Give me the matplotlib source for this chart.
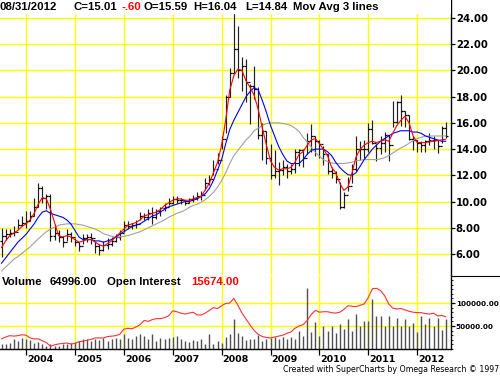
import numpy as np
import pandas as pd
import matplotlib
matplotlib.use("Agg")
import matplotlib.pyplot as plt
from matplotlib.lines import Line2D
from matplotlib.ticker import MultipleLocator, FormatStrFormatter

# monthly bars, Jul 2003 .. Aug 2012
months = pd.date_range("2003-07-01", periods=110, freq="MS")

opens = [7.0, 7.4, 7.5, 7.6, 7.7, 8.2, 8.4, 8.5, 8.9, 9.6, 11.0, 10.3, 10.4, 7.4, 7.6, 7.3, 6.9, 7.5,
         7.3, 6.9, 6.6, 7.2, 7.3, 7.2, 6.6, 6.3, 6.7, 6.8, 7.0, 7.3, 7.6, 8.2, 8.1, 8.2, 8.3, 8.9,
         8.8, 9.1, 8.8, 9.3, 9.5, 9.6, 9.9, 10.2, 10.1, 10.1, 9.9, 10.2, 10.3, 10.4, 10.5, 11.4, 11.7, 12.5,
         13.2, 14.8, 18.0, 19.8, 21.6, 20.0, 20.3, 19.1, 18.8, 18.6, 15.1, 15.4, 13.3, 12.0, 12.3, 12.4,
         12.6, 12.3, 12.5, 13.8, 13.9, 13.3, 14.6, 15.0, 14.6, 14.4, 13.6, 12.3, 12.2, 11.7, 9.6, 10.5,
         11.2, 12.5, 14.0, 14.0, 14.0, 15.5, 14.5, 14.1, 14.5, 15.1, 14.3, 16.1, 17.6, 16.9, 16.6, 14.8,
         14.7, 14.5, 14.3, 14.6, 14.7, 14.7, 14.2, 15.59]
highs = [8.0, 7.9, 7.9, 8.1, 8.7, 8.9, 9.3, 9.3, 10.3, 11.4, 11.2, 10.6, 10.6, 8.3, 7.8, 7.4, 7.9, 7.7,
         7.2, 6.9, 7.5, 7.5, 7.6, 7.0, 6.8, 7.0, 7.2, 7.3, 7.5, 7.8, 8.5, 8.5, 8.4, 8.6, 9.2, 9.1,
         9.4, 9.6, 9.4, 9.6, 9.9, 10.3, 10.4, 10.4, 10.3, 10.1, 10.3, 10.5, 10.7, 10.8, 11.8, 12.0, 13.2, 13.7,
         15.0, 18.1, 20.2, 24.6, 23.4, 21.0, 20.9, 19.0, 20.3, 18.7, 16.0, 15.4, 14.4, 13.9, 13.0, 13.2,
         12.9, 12.9, 14.0, 14.0, 14.0, 15.2, 15.9, 15.0, 14.7, 14.2, 13.6, 12.6, 12.3, 11.5, 10.7, 11.9,
         12.9, 15.0, 14.6, 14.7, 16.0, 16.2, 14.4, 15.0, 15.3, 15.1, 17.7, 17.7, 18.1, 16.9, 16.6, 15.0,
         14.7, 14.6, 14.7, 15.2, 15.0, 14.7, 15.8, 16.04]
lows = [5.8, 7.1, 7.3, 7.4, 7.9, 8.1, 8.0, 8.5, 8.9, 9.6, 9.9, 9.4, 7.0, 7.1, 6.9, 6.5, 7.0, 6.9,
        6.6, 6.2, 6.8, 6.9, 6.8, 6.1, 5.9, 6.2, 6.4, 6.6, 6.9, 7.1, 7.7, 7.9, 7.9, 8.0, 8.6, 8.6,
        8.6, 8.3, 8.7, 8.9, 9.3, 9.7, 9.8, 9.9, 9.8, 9.7, 9.9, 10.0, 10.1, 10.1, 10.9, 11.3, 12.0, 12.9,
        14.0, 15.2, 18.0, 19.8, 19.4, 18.4, 17.6, 15.9, 17.8, 14.8, 13.2, 12.9, 11.7, 11.8, 11.3, 12.0,
        11.8, 12.1, 12.2, 12.7, 12.6, 13.6, 13.8, 13.5, 13.3, 12.8, 12.1, 11.8, 11.4, 9.4, 9.5, 10.8,
        11.4, 12.3, 13.2, 13.3, 13.8, 14.4, 13.1, 13.6, 13.8, 13.1, 15.7, 16.0, 15.8, 15.7, 14.7, 13.9,
        13.8, 13.8, 13.8, 14.3, 14.0, 13.7, 14.5, 14.84]
closes = [7.4, 7.5, 7.6, 7.7, 8.2, 8.4, 8.5, 8.9, 9.6, 11.0, 10.3, 10.4, 7.4, 7.6, 7.3, 6.9, 7.5, 7.3,
          6.9, 6.6, 7.2, 7.3, 7.2, 6.6, 6.3, 6.7, 6.8, 7.0, 7.3, 7.6, 8.2, 8.1, 8.2, 8.3, 8.9, 8.8,
          9.1, 8.8, 9.3, 9.5, 9.6, 9.9, 10.2, 10.1, 10.1, 9.9, 10.2, 10.3, 10.4, 10.5, 11.4, 11.7, 12.5, 13.2,
          14.8, 18.0, 19.8, 21.6, 20.0, 20.3, 19.1, 18.8, 18.6, 15.1, 15.4, 13.3, 12.0, 12.3, 12.4, 12.6,
          12.3, 12.5, 13.8, 13.9, 13.3, 14.6, 15.0, 14.6, 14.4, 13.6, 12.3, 12.2, 11.7, 9.6, 10.5, 11.2,
          12.5, 14.0, 14.0, 14.0, 15.5, 14.5, 14.1, 14.5, 15.1, 14.3, 16.1, 17.6, 16.9, 16.6, 14.8, 14.7,
          14.5, 14.3, 14.6, 14.7, 14.7, 14.2, 15.61, 15.01]

ma_fast = [6.5, 7.0, 7.4, 7.6, 7.8, 8.1, 8.3, 8.6, 9.1, 9.8, 10.3, 10.2, 9.4, 8.4, 7.4, 7.3, 7.4, 7.3,
           7.1, 6.9, 7.0, 7.1, 7.1, 6.9, 6.7, 6.6, 6.8, 7.0, 7.3, 7.6, 7.9, 8.2, 8.3, 8.4, 8.6, 8.9,
           9.0, 9.1, 9.2, 9.4, 9.7, 9.9, 10.1, 10.2, 10.2, 10.1, 10.1, 10.2, 10.3, 10.4, 10.9, 11.4, 12.2, 13.0,
           14.3, 16.2, 18.5, 19.6, 20.1, 20.0, 19.2, 18.7, 18.1, 17.0, 15.6, 14.3, 13.1, 12.6, 12.4, 12.5,
           12.5, 12.6, 13.0, 13.6, 13.8, 14.3, 14.7, 14.8, 14.4, 14.0, 13.5, 12.6, 12.2, 11.4, 10.85, 11.1,
           12.2, 13.4, 14.0, 14.3, 14.5, 14.6, 14.5, 14.6, 14.7, 14.6, 15.2, 15.8, 16.2, 16.5, 16.0, 15.0,
           14.5, 14.5, 14.5, 14.55, 14.6, 14.65, 14.7, 14.75]
ma_mid = [5.3, 5.7, 6.1, 6.5, 6.9, 7.2, 7.5, 7.9, 8.3, 8.8, 9.2, 9.3, 9.1, 9.0, 8.9, 8.8, 8.6, 8.3,
          7.8, 7.3, 7.1, 7.1, 7.1, 7.0, 7.0, 6.9, 7.0, 7.1, 7.3, 7.5, 7.7, 7.9, 8.1, 8.2, 8.3, 8.5,
          8.7, 8.9, 9.0, 9.2, 9.4, 9.6, 9.7, 9.8, 9.9, 10.0, 10.0, 10.1, 10.2, 10.4, 10.6, 11.0, 11.6, 12.4,
          13.2, 14.4, 15.5, 16.2, 16.8, 17.4, 18.0, 18.4, 18.7, 18.5, 17.7, 16.8, 15.8, 15.0, 14.2, 13.6,
          13.1, 12.9, 12.9, 12.9, 13.2, 13.6, 13.9, 14.0, 14.0, 14.0, 13.8, 13.5, 13.0, 12.6, 12.3, 12.05,
          12.0, 12.2, 12.7, 13.2, 13.6, 14.0, 14.3, 14.6, 14.8, 15.0, 15.2, 15.3, 15.4, 15.4, 15.4, 15.3,
          15.3, 15.2, 15.0, 14.9, 14.8, 14.7, 14.6, 14.6]
ma_slow = [4.7, 5.0, 5.3, 5.6, 5.8, 6.05, 6.3, 6.55, 6.85, 7.15, 7.45, 7.7, 7.9, 8.05, 8.2, 8.25, 8.3, 8.3,
           8.3, 8.25, 8.2, 8.1, 8.0, 7.9, 7.75, 7.55, 7.45, 7.35, 7.3, 7.3, 7.35, 7.4, 7.5, 7.6, 7.7, 7.85,
           8.0, 8.15, 8.3, 8.45, 8.6, 8.8, 8.95, 9.1, 9.2, 9.35, 9.55, 9.7, 9.8, 9.95, 10.15, 10.4, 10.7, 11.1,
           11.6, 12.2, 12.9, 13.5, 13.9, 14.3, 14.7, 15.0, 15.4, 15.6, 15.8, 15.95, 16.0, 16.0, 16.0, 15.95,
           15.9, 15.8, 15.6, 15.35, 14.9, 14.55, 14.15, 13.75, 13.45, 13.2, 13.05, 12.95, 12.9, 12.9, 12.9, 12.95,
           13.0, 13.1, 13.15, 13.2, 13.2, 13.2, 13.2, 13.25, 13.35, 13.5, 13.7, 13.9, 14.1, 14.25, 14.45, 14.65,
           14.8, 14.9, 15.0, 15.0, 15.0, 15.0, 15.0, 15.0]

volume = [10000, 10000, 13000, 22000, 17000, 24000, 22000, 19000, 13000, 15000, 10000, 6000, 10000, 7000,
          6000, 10000, 10000, 13000, 15000, 17000, 21000, 21000, 17000, 22000, 19000, 24000, 17000, 21000,
          24000, 22000, 32000, 24000, 22000, 28000, 32000, 29000, 21000, 32000, 17000, 24000, 21000, 24000,
          26000, 28000, 21000, 17000, 15000, 19000, 17000, 21000, 11000, 32000, 10000, 17000, 13000, 26000,
          32000, 66000, 35000, 29000, 19000, 22000, 22000, 30000, 17000, 22000, 24000, 26000, 22000, 26000,
          21000, 26000, 22000, 39000, 28000, 132000, 37000, 59000, 29000, 50000, 39000, 50000, 35000, 54000,
          43000, 65000, 39000, 76000, 50000, 61000, 61000, 109000, 72000, 71000, 51000, 72000, 51000, 68000,
          51000, 65000, 50000, 57000, 37000, 71000, 54000, 68000, 50000, 68000, 41000, 64996]
# open interest line as it sits on the volume scale
open_interest_scaled = [22000, 26000, 29000, 28000, 29000, 31000, 30000, 24000, 22000, 22000, 18000, 14000,
                        6000, 9000, 11000, 12000, 13000, 11000, 12000, 16000, 17000, 19000, 21000, 24000,
                        24000, 24000, 27000, 28000, 29000, 32000, 43000, 45000, 44000, 48000, 53000, 62000,
                        60000, 64000, 66000, 66000, 68000, 72000, 83000, 81000, 78000, 76000, 78000, 80000,
                        74000, 74000, 78000, 84000, 90000, 88000, 94000, 99000, 100000, 110000, 95000, 78000,
                        65000, 52000, 40000, 32000, 27000, 25000, 24000, 26000, 28000, 30000, 34000, 37000,
                        45000, 50000, 53000, 62000, 75000, 84000, 80000, 81000, 81000, 79000, 78000, 80000,
                        86000, 94000, 93000, 92000, 95000, 98000, 112000, 131000, 132000, 127000, 116000, 98000,
                        89000, 87000, 88000, 85000, 82000, 80000, 79000, 79000, 77000, 76000, 78000, 72000,
                        73000, 70000]

years = list(range(2004, 2013))
price_ticks = list(range(6, 25, 2))
volume_ticks = [50000, 100000]

W, H = 500, 377
GRID = "#ffff00"
BOLD = {"family": "DejaVu Sans", "weight": "bold"}
HEAD = {"family": "Liberation Sans", "weight": "bold"}


def box(x0, y0, x1, y1):
    return [x0 / W, 1 - y1 / H, (x1 - x0) / W, (y1 - y0) / H]


x = np.array(months.year + (months.month - 1) / 12.0)
tick_w = 2.0 / 48.9

fig = plt.figure(figsize=(W / 100, H / 100), dpi=100)
fig.patch.set_facecolor("white")
ax = fig.add_axes(box(0, 0, 451, 275))
axv = fig.add_axes(box(0, 276, 451, 349))

# price panel
ax.set_xlim(2003.468, 2012.691)
ax.set_ylim(4.40, 25.37)
ax.set_axisbelow(True)
ax.set_xticks(years)
ax.set_yticks(price_ticks)
ax.grid(True, color=GRID, lw=1.0)
ax.vlines(x, lows, highs, color="#202020", lw=0.85, zorder=2)
ax.hlines(opens, x - tick_w, x, color="black", lw=0.9, zorder=2)
ax.hlines(closes, x, x + tick_w, color="black", lw=0.9, zorder=2)
ax.plot(x, ma_slow, color="#a0a0a0", lw=0.8, zorder=3)
ax.plot(x, ma_mid, color="#0000ff", lw=0.8, zorder=3)
ax.plot(x, ma_fast, color="#ff0000", lw=0.8, zorder=3)
ax.axhspan(24.38, 25.6, color="white", zorder=4)

ax.yaxis.tick_right()
ax.yaxis.set_major_formatter(FormatStrFormatter("%.2f"))
ax.tick_params(axis="y", direction="out", length=3, width=0.9, pad=0.5, labelsize=7.3)
ax.tick_params(axis="x", length=0, labelbottom=False)
for lbl in ax.get_yticklabels():
    lbl.set_fontweight("bold")
for s in ["left", "top", "bottom"]:
    ax.spines[s].set_visible(False)
ax.spines["right"].set_linewidth(1.0)

# volume panel
axv.set_xlim(2003.468, 2012.691)
axv.set_ylim(0, 158700)
axv.set_axisbelow(True)
axv.set_xticks(years)
axv.set_yticks(volume_ticks)
axv.yaxis.set_minor_locator(MultipleLocator(10000))
axv.grid(True, which="major", color=GRID, lw=1.0)
axv.vlines(x, 0, volume, color="#505050", lw=1.0, zorder=2)
axv.plot(x, open_interest_scaled, color="#ff3030", lw=0.8, zorder=3)

axv.yaxis.tick_right()
axv.yaxis.set_major_formatter(FormatStrFormatter("%.2f"))
axv.tick_params(axis="y", which="major", direction="out", length=3, width=0.9, pad=0.5, labelsize=5.2)
axv.tick_params(axis="y", which="minor", direction="out", length=1.5, width=0.6)
axv.tick_params(axis="x", direction="out", length=4, width=0.9, labelbottom=False)
for lbl in axv.get_yticklabels():
    lbl.set_fontweight("bold")
for s in ["left", "top"]:
    axv.spines[s].set_visible(False)
axv.spines["right"].set_linewidth(1.0)
axv.spines["bottom"].set_linewidth(1.0)

for yr in years:
    axv.text(yr + 0.02, -0.145, str(yr), transform=axv.get_xaxis_transform(),
             ha="left", va="center", fontsize=6.8, **BOLD)

fig.add_artist(Line2D([451 / W, 1.0], [1 - 275.5 / H] * 2, color="black", lw=0.8))

# header texts
header = [(0, "08/31/2012", "black"), (74, "C=15.01", "black"), (122, "-.60", "#ff0000"),
          (144, "O=15.59", "black"), (193, "H=16.04", "black"), (245, "L=14.84", "black"),
          (293, "Mov Avg 3 lines", "black")]
for px, s, c in header:
    fig.text(px / W, 1 - 7 / H, s, color=c, ha="left", va="center", fontsize=8.2, **HEAD)

vol_header = [(2, "Volume", "black"), (50, "64996.00", "black"), (107, "Open Interest", "black"),
              (191, "15674.00", "#ff0000")]
for px, s, c in vol_header:
    fig.text(px / W, 1 - 282 / H, s, color=c, ha="left", va="center", fontsize=8.2, **HEAD)

fig.text(499.5 / W, 1 - 370 / H, "Created with SuperCharts by Omega Research \u00a9 1997",
         ha="right", va="center", fontsize=5.7, family="DejaVu Sans")

fig.savefig("out.png", dpi=100, facecolor="white")
